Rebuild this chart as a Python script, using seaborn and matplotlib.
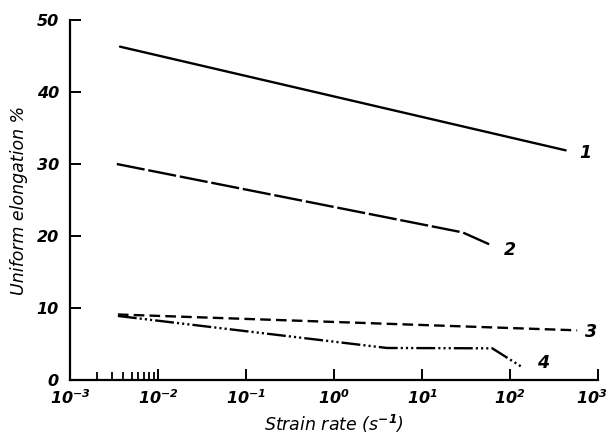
import matplotlib
matplotlib.use("Agg")
import matplotlib.pyplot as plt
import matplotlib.transforms as mtransforms
import pandas as pd
import seaborn as sns

# curve values (strain rate in 1/s, uniform elongation in %)
rate_1 = [3.7e-3, 430]
elong_1 = [46.3, 31.9]
rate_2 = [3.4e-3, 29, 62]
elong_2 = [30.0, 20.5, 18.7]
rate_3 = [3.5e-3, 580]
elong_3 = [9.1, 6.9]
rate_4 = [3.5e-3, 4, 63, 137]
elong_4 = [8.9, 4.45, 4.4, 1.8]
curve_names = ["1", "2", "3", "4"]

x_ticks = [1e-3, 1e-2, 1e-1, 1e0, 1e1, 1e2, 1e3]
x_tick_labels = ["$10^{-3}$", "$10^{-2}$", "$10^{-1}$", "$10^{0}$",
                 "$10^{1}$", "$10^{2}$", "$10^{3}$"]
y_ticks = [0, 10, 20, 30, 40, 50]

sns.set_style("ticks")
plt.rcParams["font.family"] = ["DejaVu Sans"]
plt.rcParams["text.color"] = "black"
plt.rcParams["axes.labelcolor"] = "black"
plt.rcParams["xtick.color"] = "black"
plt.rcParams["ytick.color"] = "black"
plt.rcParams["mathtext.fontset"] = "custom"
plt.rcParams["mathtext.it"] = "DejaVu Sans:italic:bold"
plt.rcParams["mathtext.rm"] = "DejaVu Sans:italic:bold"
plt.rcParams["mathtext.default"] = "it"

frames = []
for name, r, e in zip(curve_names, [rate_1, rate_2, rate_3, rate_4],
                      [elong_1, elong_2, elong_3, elong_4]):
    frames.append(pd.DataFrame({"rate": r, "elong": e, "curve": name}))
df = pd.concat(frames, ignore_index=True)

fig = plt.figure(figsize=(6.11, 4.37), dpi=100)
ax = fig.add_axes([0.1146, 0.1304, 0.864, 0.8238])

dash_map = {
    "1": "",
    "2": (12, 1.6),
    "3": (4.5, 2.2),
    "4": (8, 1.3, 0.9, 1.3, 0.9, 1.3, 0.9, 1.3),
}
sns.lineplot(data=df, x="rate", y="elong", hue="curve", style="curve",
             palette=["black"] * 4, dashes=dash_map, linewidth=1.7,
             legend=False, ax=ax)

ax.set_xscale("log")
ax.set_xlim(1e-3, 1e3)
ax.set_ylim(0, 50)
ax.set_xticks(x_ticks)
ax.set_xticklabels(x_tick_labels)
ax.set_xticks([k * 1e-3 for k in range(2, 10)], minor=True)
ax.set_yticks(y_ticks)
ax.set_yticklabels([str(v) for v in y_ticks], fontstyle="italic",
                   fontweight="bold", fontsize=11.5)
ax.tick_params(axis="both", which="major", direction="in", length=8,
               width=1.4, labelsize=11.5, pad=6)
ax.tick_params(axis="x", which="minor", direction="in", length=5.5,
               width=1.3)
ax.tick_params(axis="y", pad=8)

# last x label sits on the figure edge: nudge it in a little
last = ax.get_xticklabels()[-1]
last.set_transform(last.get_transform() +
                   mtransforms.ScaledTranslation(-6 / 100, 0,
                                                 fig.dpi_scale_trans))

sns.despine(ax=ax)
for side in ["left", "bottom"]:
    ax.spines[side].set_linewidth(1.6)
    ax.spines[side].set_color("black")

ax.set_xlabel("Strain rate (s$^{-1}$)", fontsize=12.5, fontstyle="italic",
              labelpad=4)
ax.set_ylabel("Uniform elongation %", fontsize=12.5, fontstyle="italic",
              labelpad=6)

# curve numbers next to the line ends
offsets = {"1": (10, -2), "2": (9, -3), "3": (6, -1), "4": (11, 3)}
for name in curve_names:
    sub = df[df["curve"] == name]
    ax.annotate(name, (sub["rate"].iloc[-1], sub["elong"].iloc[-1]),
                xytext=offsets[name], textcoords="offset points",
                fontsize=12.5, fontstyle="italic", fontweight="bold",
                ha="left", va="center")

fig.savefig("out.png", dpi=100)
